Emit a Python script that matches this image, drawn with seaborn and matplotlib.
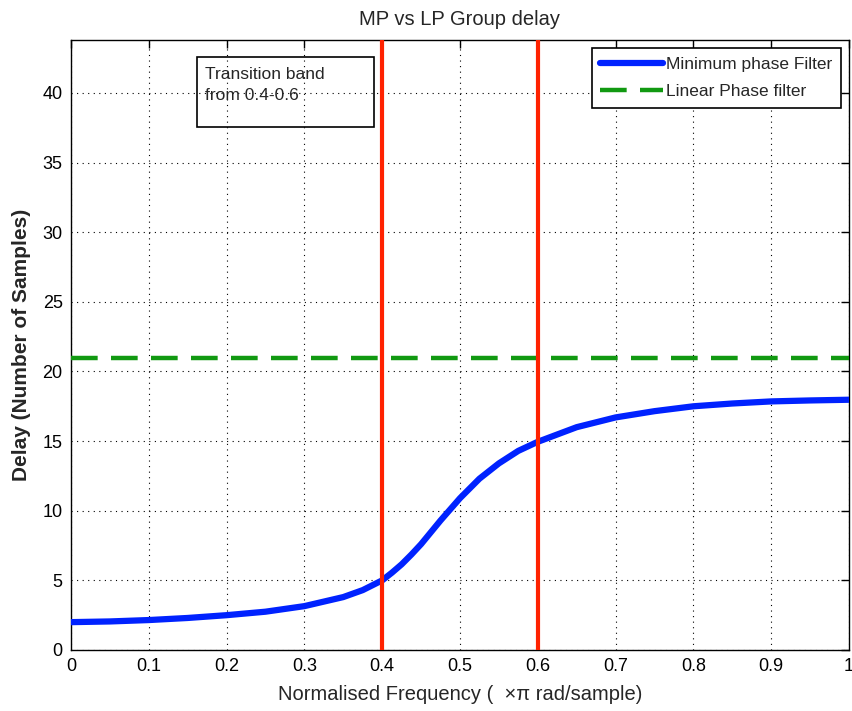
import matplotlib
matplotlib.use("Agg")
import matplotlib.pyplot as plt
from matplotlib.patches import Rectangle
import seaborn as sns
import pandas as pd

# values
freq = [0, 0.05, 0.1, 0.15, 0.2, 0.25, 0.3, 0.35, 0.375, 0.4, 0.4125, 0.425, 0.4375, 0.45,
        0.475, 0.5, 0.525, 0.55, 0.575, 0.6, 0.65, 0.7, 0.75, 0.8, 0.85, 0.9, 0.95, 1.0]
delay_mp = [2.0, 2.05, 2.15, 2.3, 2.5, 2.75, 3.15, 3.8, 4.3, 5.0, 5.55, 6.15, 6.85, 7.6,
            9.3, 10.9, 12.3, 13.4, 14.3, 14.95, 16.0, 16.7, 17.15, 17.5, 17.7, 17.85, 17.92, 17.97]
delay_lp = 21
band_edges = [0.4, 0.6]
xticks = [0, 0.1, 0.2, 0.3, 0.4, 0.5, 0.6, 0.7, 0.8, 0.9, 1]
yticks = [0, 5, 10, 15, 20, 25, 30, 35, 40]

sns.set_style("white")
plt.rcParams['font.family'] = ['Liberation Sans', 'DejaVu Sans']

df = pd.DataFrame({"freq": freq, "delay": delay_mp})

fig = plt.figure(figsize=(8.53, 7.11), dpi=100)
ax = fig.add_axes([0.0832, 0.0858, 0.9953 - 0.0832, 0.9437 - 0.0858])

sns.lineplot(data=df, x="freq", y="delay", ax=ax, color="#0022ff", linewidth=4.5,
             label="Minimum phase Filter", zorder=3)
ax.axhline(delay_lp, color="#119911", linewidth=3.2, dashes=(6, 3),
           label="Linear Phase filter", zorder=3)
for e in band_edges:
    ax.axvline(e, color="#ff2200", linewidth=3, zorder=4)

ax.set_xlim(0, 1)
ax.set_ylim(0, 43.8)
ax.set_xticks(xticks)
ax.set_xticklabels([f"{t:g}" for t in xticks])
ax.set_yticks(yticks)

ax.grid(True, color="black", linestyle=(0, (1, 4)), linewidth=0.8)
ax.tick_params(direction="in", length=6, width=1, top=True, right=True,
               labelsize=13, colors="black", pad=6)
for s in ax.spines.values():
    s.set_color("black")
    s.set_linewidth(1)

ax.set_title("MP vs LP Group delay", fontsize=14.5, pad=11)
ax.set_xlabel("Normalised Frequency (  \u00d7\u03c0 rad/sample)", fontsize=14.5, labelpad=7)
ax.set_ylabel("Delay (Number of Samples)", fontsize=15, fontweight="bold", labelpad=8)

# transition band note: box plus text, transparent like the original
ax.add_patch(Rectangle((0.162, 0.857), 0.227, 0.115, transform=ax.transAxes,
                       facecolor="none", edgecolor="black", linewidth=1.2, zorder=5))
ax.text(0.172, 0.955, "Transition band\nfrom 0.4-0.6", transform=ax.transAxes,
        fontsize=12.5, va="top", ha="left", linespacing=1.5, zorder=5)

leg = ax.legend(loc="upper right", fontsize=12.5, handlelength=3.6, handletextpad=0.2,
                borderaxespad=0.45, fancybox=False, framealpha=1, edgecolor="black",
                labelspacing=0.7, borderpad=0.5)
leg.get_frame().set_linewidth(1.2)

fig.savefig("out.png", dpi=100)
